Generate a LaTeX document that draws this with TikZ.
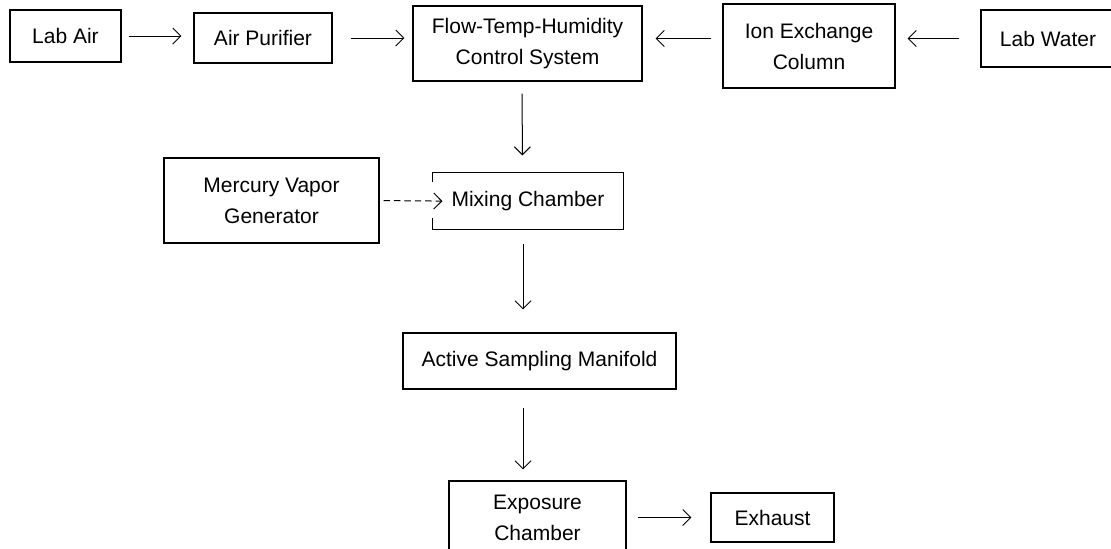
\documentclass[tikz,border=0pt]{standalone}
\usepackage{fontspec}
\setmainfont{Liberation Sans}
\usetikzlibrary{arrows.meta}
\tikzset{
  box/.style={draw, line width=0.55pt, align=center, inner sep=0pt, font=\fontsize{10.5}{15.5}\selectfont},
  flow/.style={-{Straight Barb[length=4pt,width=8pt]}, line width=0.5pt},
}
\begin{document}
\begin{tikzpicture}[x=0.5pt,y=-0.5pt]
    \useasboundingbox (0,0) rectangle (1111,548);
    \clip (0,0) rectangle (1111,548);
    \node [box, minimum width=55.5pt, minimum height=26pt] (labair) at (65.5,36) {Lab Air};
    \node [box, minimum width=69pt, minimum height=25pt] (purifier) at (263,38) {Air Purifier};
    \node [box, minimum width=114.5pt, minimum height=37.5pt] (control) at (527.5,43.5) {Flow-Temp-Humidity\\Control System};
    \node [box, minimum width=86pt, minimum height=42pt] (ionex) at (809,46) {Ion Exchange\\Column};
    \node [box, minimum width=67pt, minimum height=28.5pt] (labwater) at (1048,38.5) {Lab Water};
    \node [box, minimum width=107.5pt, minimum height=42.5pt] (mercury) at (271.5,200.5) {Mercury Vapor\\Generator};
    \node [box, draw=none, minimum width=95pt, minimum height=28pt] (mixing) at (528,201) {Mixing Chamber};
    \draw [line width=0.55pt] ([yshift=-5pt]mixing.north west) -- (mixing.north west) -- (mixing.north east)
        -- (mixing.south east) -- (mixing.south west) -- ([yshift=6pt]mixing.south west);
    \node [box, minimum width=136.5pt, minimum height=28pt] (manifold) at (539.5,361) {Active Sampling Manifold};
    \node [box, minimum width=88.5pt, minimum height=37pt] (exposure) at (537.5,518) {Exposure\\Chamber};
    \node [box, minimum width=61.5pt, minimum height=24.5pt] (exhaust) at (772.5,517.5) {Exhaust};
    \draw [flow, shorten <=3.5pt, shorten >=6pt] (labair.east) -- (labair.east -| purifier.west);
    \draw [flow, shorten <=9pt, shorten >=4pt] (purifier.east) -- (purifier.east -| control.west);
    \draw [flow, shorten <=5.5pt, shorten >=6.5pt] (labwater.west -| ionex.west) -- (labwater.west -| control.east);
    \draw [flow, shorten <=10.5pt, shorten >=6pt] (labwater.west) -- (labwater.west -| ionex.east);
    \draw [flow, shorten <=6pt, shorten >=8.5pt] ([xshift=-2.75pt]control.south) -- ([xshift=-2.75pt]mixing.north);
    \draw [flow, dash pattern=on 3.2pt off 2pt, shorten <=2pt, shorten >=-5pt] (mercury.east) -- (mixing.west);
    \draw [flow, shorten <=7pt, shorten >=11.5pt] ([xshift=-2.5pt]mixing.south) -- ([xshift=-8.25pt]manifold.north);
    \draw [flow, shorten <=9pt, shorten >=5.5pt] ([xshift=-8.25pt]manifold.south) -- ([xshift=-7.25pt]exposure.north);
    \draw [flow, shorten <=5.5pt, shorten >=9.5pt] (exhaust.west -| exposure.east) -- (exhaust.west);
\end{tikzpicture}
\end{document}
